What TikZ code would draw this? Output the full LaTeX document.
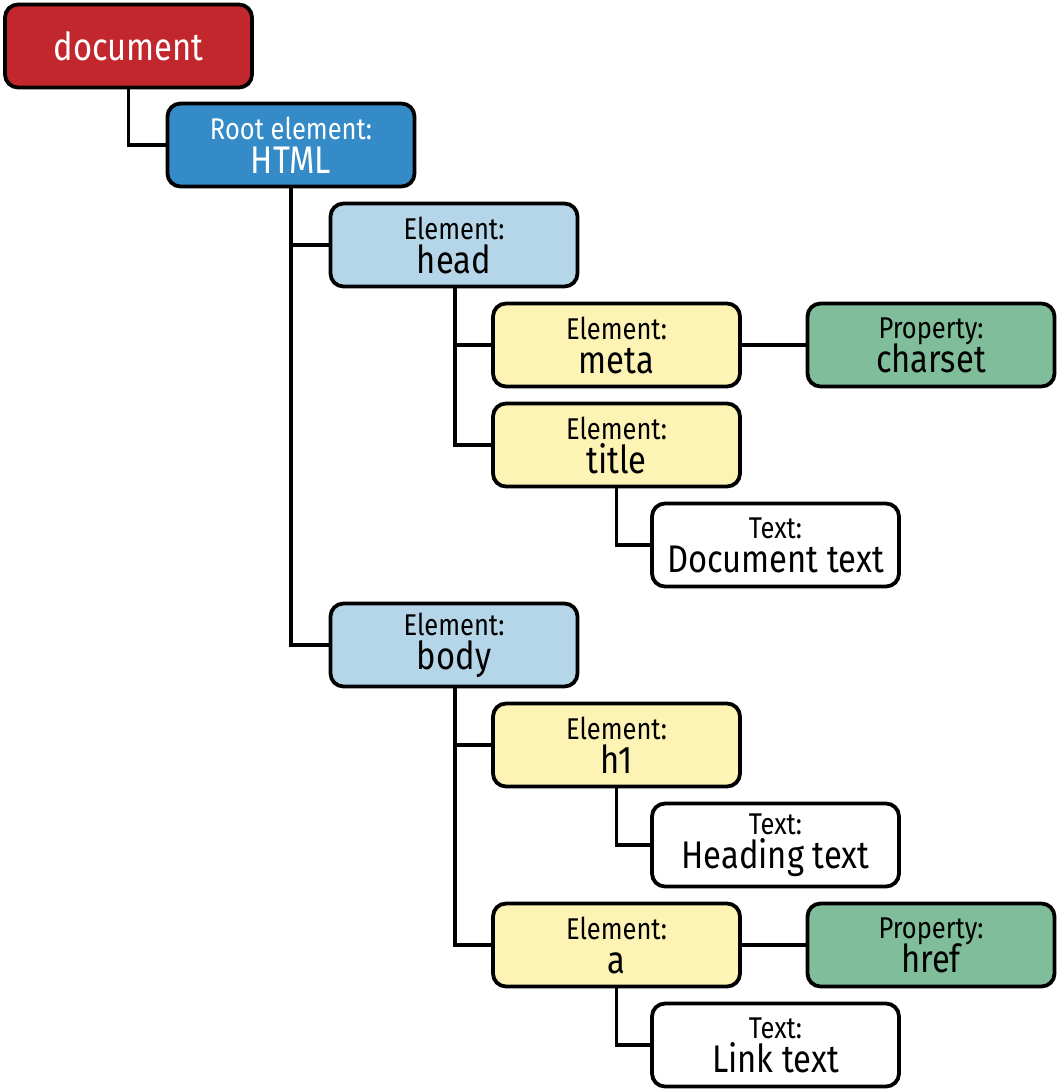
\documentclass[tikz,border=0pt]{standalone}
\usepackage{fontspec}
\setmainfont{Fira Sans}[FakeStretch=0.85]
\definecolor{cred}{HTML}{C1272D}
\definecolor{cblue}{HTML}{348BC8}
\definecolor{clblue}{HTML}{B5D5E9}
\definecolor{cyellow}{HTML}{FDF3B4}
\definecolor{cgreen}{HTML}{80BE9B}
\tikzset{
  box/.style={draw=black, line width=3.8pt, rounded corners=13pt, minimum width=247pt, minimum height=83pt, align=center, inner sep=0pt, font=\fontsize{38.5}{40}\selectfont},
  conn/.style={draw=black, line width=3.3pt},
}
\newcommand{\lbl}[2]{{\fontsize{30}{32}\selectfont #1}\\[-6pt]#2}
\begin{document}
\begin{tikzpicture}[x=1pt,y=-1pt]
\useasboundingbox (0,0) rectangle (1059,1091);
\node[box, fill=cred, text=white] (doc) at (128.5,46) {document};
\node[box, fill=cblue, text=white] (html) at (291,145) {\lbl{Root element:}{HTML}};
\node[box, fill=clblue] (head) at (454,245) {\lbl{Element:}{head}};
\node[box, fill=cyellow] (meta) at (616.5,345) {\lbl{Element:}{meta}};
\node[box, fill=cgreen] (charset) at (931,345) {\lbl{Property:}{charset}};
\node[box, fill=cyellow] (title) at (616.5,445) {\lbl{Element:}{title}};
\node[box, fill=white] (dtext) at (775.5,545) {\lbl{Text:}{Document text}};
\node[box, fill=clblue] (body) at (454,645) {\lbl{Element:}{body}};
\node[box, fill=cyellow] (h1) at (616.5,745) {\lbl{Element:}{h1}};
\node[box, fill=white] (htext) at (775.5,845) {\lbl{Text:}{Heading text}};
\node[box, fill=cyellow] (a) at (616.5,945) {\lbl{Element:}{a}};
\node[box, fill=cgreen] (href) at (931,945) {\lbl{Property:}{href}};
\node[box, fill=white] (ltext) at (775.5,1045) {\lbl{Text:}{Link text}};
\draw[conn] (doc.south) |- (html.west);
\draw[conn] (html.south) |- (head.west);
\draw[conn] (html.south) |- (body.west);
\draw[conn] ([xshift=1pt]head.south) |- (meta.west);
\draw[conn] ([xshift=1pt]head.south) |- (title.west);
\draw[conn] (meta.east) -- (charset.west);
\draw[conn] (title.south) |- (dtext.west);
\draw[conn] ([xshift=1pt]body.south) |- (h1.west);
\draw[conn] ([xshift=1pt]body.south) |- (a.west);
\draw[conn] (h1.south) |- (htext.west);
\draw[conn] (a.east) -- (href.west);
\draw[conn] (a.south) |- (ltext.west);
\end{tikzpicture}
\end{document}
